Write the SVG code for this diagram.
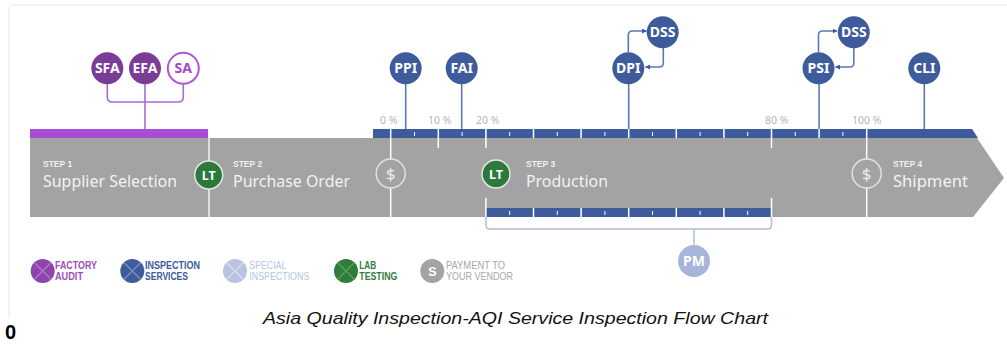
<svg xmlns="http://www.w3.org/2000/svg" width="1007" height="345" viewBox="0 0 1007 345">
<defs>
<style>
.frame{fill:none;stroke:#efefef;stroke-width:1.5}
.band{fill:#a3a3a3}
.bar{fill:#3e5b9b}
.sep{stroke:#ffffff;stroke-width:1.5;fill:none}
.tick{stroke:#ffffff;stroke-width:1;fill:none}
.wl{stroke:#f2f2f2;stroke-width:1.5;fill:none}
.plink{stroke:#a56ccc;stroke-width:1.6;fill:none}
.blink{stroke:#5b79b8;stroke-width:1.6;fill:none}
.brk{stroke:#afbdda;stroke-width:1.5;fill:none}
.cp{fill:#7a3c96}
.cb{fill:#3e5b9b}
.clbl{font-family:"Noto Sans","Liberation Sans",sans-serif;font-weight:bold;font-size:14px;fill:#ffffff;text-anchor:middle}
.lt{fill:#2b7a3b;stroke:#e6e6e6;stroke-width:1.5}
.dol{fill:#a3a3a3;stroke:#e2e2e2;stroke-width:1.5}
.dtx{font-family:"Noto Sans","Liberation Sans",sans-serif;font-size:17px;fill:#ececec;text-anchor:middle}
.step{font-family:"Liberation Sans","Noto Sans",sans-serif;font-weight:bold;font-size:8.5px;fill:#f0f0f0}
.stitle{font-family:"Noto Sans","Liberation Sans",sans-serif;font-size:15.5px;fill:#f2f2f2}
.pct{font-family:"Noto Sans","Liberation Sans",sans-serif;font-size:10.5px;fill:#b8b8b8}
.leg{font-family:"Liberation Sans","Noto Sans",sans-serif;font-weight:bold;font-size:11.5px}
.cap{font-family:"Liberation Sans",Arial,sans-serif;font-style:italic;font-size:16.5px;fill:#111111;text-anchor:middle}
</style>
<marker id="ah" viewBox="0 0 10 10" refX="9" refY="5" markerWidth="5" markerHeight="5" orient="auto" markerUnits="userSpaceOnUse">
<path d="M0,0 L10,5 L0,10 z" fill="#3e5b9b"/>
</marker>
</defs>
<rect width="1007" height="345" fill="#ffffff"/>
<path class="frame" d="M9,318 V10 Q9,5 14,5 H1007"/>

<g id="band">
<rect class="band" x="30" y="138" width="180" height="79"/>
<polygon class="band" points="210,138 977,138 1004,178 973,217 210,217"/>
<rect x="30" y="129" width="178" height="9" fill="#a64ed6"/>
<polygon class="bar" points="373,129 972,129 978,138 373,138"/>
<rect class="bar" x="486" y="208" width="285.5" height="9"/>
</g>

<g id="connectors">
<path class="wl" d="M209,138 V217"/>
<path class="sep" d="M390.7,129 V217 M866.7,129 V217 M438.3,129 V148 M485.9,129 V148 M771.5,129 V148"/>
<path class="sep" d="M533.5,129 V138 M581.1,129 V138 M628.7,129 V138 M676.3,129 V138 M723.9,129 V138 M819.1,129 V138"/>
<path class="tick" d="M414.5,132 V136 M462.1,132 V136 M509.7,132 V136 M557.3,132 V136 M604.9,132 V136 M652.5,132 V136 M700.1,132 V136 M747.7,132 V136 M795.3,132 V136 M842.9,132 V136"/>
<path class="sep" d="M485.9,198 V217 M771.5,198 V217 M533.5,208 V217 M581.1,208 V217 M628.7,208 V217 M676.3,208 V217 M723.9,208 V217"/>
<path class="tick" d="M509.7,211 V215 M557.3,211 V215 M604.9,211 V215 M652.5,211 V215 M700.1,211 V215 M747.7,211 V215"/>
<path class="brk" d="M486,217 V225 Q486,229 490,229 H767.5 Q771.5,229 771.5,225 V217 M694,229 V245"/>
<path class="plink" d="M107.3,84 V97 Q107.3,102 112.3,102 H178.3 Q183.3,102 183.3,97 V84 M145,84 V129"/>
<path class="blink" d="M405.7,84 V129 M461.7,84 V129 M628.7,84 V129 M819.1,84 V129 M924.3,84 V129"/>
<path class="blink" d="M628.3,52 V35 Q628.3,31 632.3,31 H646.5" marker-end="url(#ah)"/>
<path class="blink" d="M663.3,48 V63 Q663.3,67 659.3,67 H645.5" marker-end="url(#ah)"/>
<path class="blink" d="M818.5,52 V35 Q818.5,31 822.5,31 H837" marker-end="url(#ah)"/>
<path class="blink" d="M853.8,48 V63 Q853.8,67 849.8,67 H835.5" marker-end="url(#ah)"/>
</g>

<g id="step1">
<text class="step" x="43" y="167">STEP 1</text>
<text class="stitle" x="43" y="187" textLength="134" lengthAdjust="spacingAndGlyphs">Supplier Selection</text>
</g>
<g id="step2">
<text class="step" x="233" y="167">STEP 2</text>
<text class="stitle" x="233" y="187" textLength="117" lengthAdjust="spacingAndGlyphs">Purchase Order</text>
</g>
<g id="step3">
<text class="step" x="526" y="167">STEP 3</text>
<text class="stitle" x="526" y="187" textLength="82" lengthAdjust="spacingAndGlyphs">Production</text>
</g>
<g id="step4">
<text class="step" x="893" y="167">STEP 4</text>
<text class="stitle" x="893" y="187" textLength="75" lengthAdjust="spacingAndGlyphs">Shipment</text>
</g>

<g id="pct">
<text class="pct" x="380" y="124">0 %</text>
<text class="pct" x="428" y="124">10 %</text>
<text class="pct" x="476" y="124">20 %</text>
<text class="pct" x="765" y="124">80 %</text>
<text class="pct" x="852" y="124">100 %</text>
</g>

<g id="lt1"><circle class="lt" cx="208.7" cy="175" r="14"/><text class="clbl" x="208.7" y="179.5" style="font-size:12.5px">LT</text></g>
<g id="lt2"><circle class="lt" cx="496" cy="174" r="14"/><text class="clbl" x="496" y="178.5" style="font-size:12.5px">LT</text></g>
<g id="pay1"><circle class="dol" cx="390.7" cy="173.5" r="14.5"/><text class="dtx" x="390.7" y="179.5">$</text></g>
<g id="pay2"><circle class="dol" cx="866.7" cy="173.5" r="14.5"/><text class="dtx" x="866.7" y="179.5">$</text></g>

<g id="sfa"><circle class="cp" cx="107.3" cy="68.3" r="16"/><text class="clbl" x="107.3" y="73.3">SFA</text></g>
<g id="efa"><circle class="cp" cx="145" cy="68.3" r="16"/><text class="clbl" x="145" y="73.3">EFA</text></g>
<g id="sa"><circle cx="183.3" cy="68.3" r="15.5" fill="#ffffff" stroke="#b155d8" stroke-width="2"/><text class="clbl" x="183.3" y="73.3" style="fill:#a448cf">SA</text></g>

<g id="ppi"><circle class="cb" cx="405.7" cy="68.3" r="16"/><text class="clbl" x="405.7" y="73.3">PPI</text></g>
<g id="fai"><circle class="cb" cx="461.7" cy="68.3" r="16"/><text class="clbl" x="461.7" y="73.3">FAI</text></g>
<g id="dpi"><circle class="cb" cx="628.3" cy="68.3" r="16"/><text class="clbl" x="628.3" y="73.3">DPI</text></g>
<g id="dss1"><circle class="cb" cx="662.7" cy="32.3" r="16"/><text class="clbl" x="662.7" y="37.3">DSS</text></g>
<g id="psi"><circle class="cb" cx="818.5" cy="68.3" r="16"/><text class="clbl" x="818.5" y="73.3">PSI</text></g>
<g id="dss2"><circle class="cb" cx="853.8" cy="32.3" r="16"/><text class="clbl" x="853.8" y="37.3">DSS</text></g>
<g id="cli"><circle class="cb" cx="924.3" cy="68.3" r="16"/><text class="clbl" x="924.3" y="73.3">CLI</text></g>
<g id="pm"><circle cx="694" cy="261" r="16" fill="#a6b6da"/><text class="clbl" x="694" y="266">PM</text></g>

<g id="legend-factory">
<circle cx="42.7" cy="271" r="12" fill="#8e44ad"/>
<path d="M34.2,262.5 L51.2,279.5 M51.2,262.5 L34.2,279.5" stroke="#b07cc8" stroke-width="1.2"/>
<text class="leg" x="55" y="269" fill="#9b4fb8" textLength="42" lengthAdjust="spacingAndGlyphs">FACTORY</text>
<text class="leg" x="55" y="280" fill="#9b4fb8" textLength="28" lengthAdjust="spacingAndGlyphs">AUDIT</text>
</g>
<g id="legend-inspection">
<circle cx="132.3" cy="271" r="12" fill="#3e5b9b"/>
<path d="M123.8,262.5 L140.8,279.5 M140.8,262.5 L123.8,279.5" stroke="#7c93c2" stroke-width="1.2"/>
<text class="leg" x="145" y="269" fill="#3e5b9b" textLength="55" lengthAdjust="spacingAndGlyphs">INSPECTION</text>
<text class="leg" x="145" y="280" fill="#3e5b9b" textLength="43" lengthAdjust="spacingAndGlyphs">SERVICES</text>
</g>
<g id="legend-special">
<circle cx="235" cy="271" r="12" fill="#b7c3df"/>
<path d="M226.5,262.5 L243.5,279.5 M243.5,262.5 L226.5,279.5" stroke="#d7deee" stroke-width="1.2"/>
<text class="leg" x="249.3" y="269" fill="#b7c3df" style="font-weight:normal" textLength="37" lengthAdjust="spacingAndGlyphs">SPECIAL</text>
<text class="leg" x="249.3" y="280" fill="#b7c3df" style="font-weight:normal" textLength="60" lengthAdjust="spacingAndGlyphs">INSPECTIONS</text>
</g>
<g id="legend-lab">
<circle cx="346" cy="271" r="12" fill="#2e7d3a"/>
<path d="M337.5,262.5 L354.5,279.5 M354.5,262.5 L337.5,279.5" stroke="#5f9e68" stroke-width="1.2"/>
<text class="leg" x="359.3" y="269" fill="#2e7d3a" textLength="17" lengthAdjust="spacingAndGlyphs">LAB</text>
<text class="leg" x="359.3" y="280" fill="#2e7d3a" textLength="38" lengthAdjust="spacingAndGlyphs">TESTING</text>
</g>
<g id="legend-payment">
<circle cx="432.3" cy="271" r="12" fill="#a3a3a3"/>
<text x="432.3" y="275.5" font-family="Liberation Sans, sans-serif" font-size="12.5" font-weight="bold" fill="#ffffff" text-anchor="middle">S</text>
<text class="leg" x="446" y="269" fill="#a8a8a8" style="font-weight:normal" textLength="59" lengthAdjust="spacingAndGlyphs">PAYMENT TO</text>
<text class="leg" x="446" y="280" fill="#a8a8a8" style="font-weight:normal" textLength="67" lengthAdjust="spacingAndGlyphs">YOUR VENDOR</text>
</g>

<text class="cap" x="515.5" y="324" textLength="505" lengthAdjust="spacingAndGlyphs">Asia Quality Inspection-AQI Service Inspection Flow Chart</text>
<text x="5" y="339" font-family="Liberation Sans, sans-serif" font-weight="bold" font-size="20" fill="#000000">0</text>
</svg>
